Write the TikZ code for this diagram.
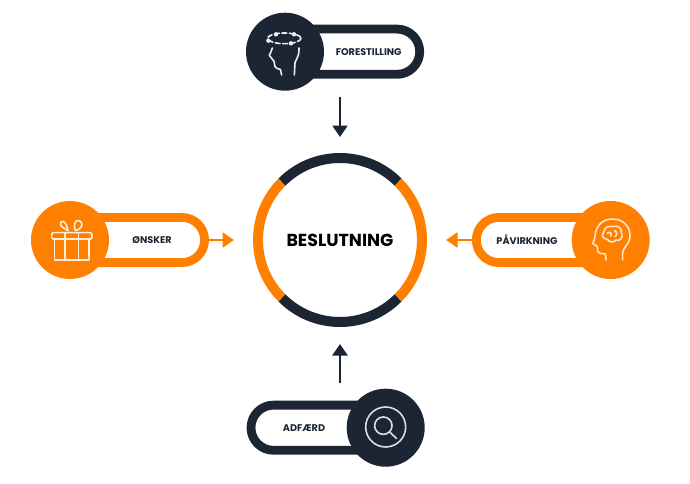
\documentclass[tikz,border=0pt]{standalone}
\usepackage{fontspec}
\setmainfont{Poppins}
\usetikzlibrary{shapes.misc,arrows.meta}
\definecolor{navy}{HTML}{1B2534}
\definecolor{orng}{HTML}{FF8000}
\tikzset{
  x=1pt,y=-1pt,
  pill/.style={rounded rectangle,draw=#1,line width=8.8pt,fill=white,minimum height=45.2pt,inner sep=0pt,outer sep=0pt},
  disc/.style={circle,fill=#1,minimum size=78pt,inner sep=0pt,outer sep=0pt},
  lbl/.style={font=\bfseries\fontsize{9.7}{11}\selectfont,text=#1,inner sep=0pt},
  flow/.style={draw=#1,line width=2.4pt,-{Triangle[length=11.5pt,width=15pt,fill=#1]}},
  icon/.style={draw=#1,line width=1.6pt,line cap=round,line join=round},
  ico/.style={x=0.3333pt,y=-0.3333pt},
}
\begin{document}
\begin{tikzpicture}
\useasboundingbox (0,0) rectangle (690,484);
\fill[white] (0,0) rectangle (690,484);
% centre ring
\node[font=\bfseries\fontsize{17.4}{20}\selectfont,text=black,inner sep=0pt] (centre) at (340,240) {BESLUTNING};
\draw[orng,line width=10pt] (340,240) ++(135:82) arc[start angle=135,end angle=225,radius=82];
\draw[orng,line width=10pt] (340,240) ++(-45:82) arc[start angle=-45,end angle=45,radius=82];
\draw[navy,line width=10pt] (340,240) ++(45:82) arc[start angle=45,end angle=135,radius=82];
\draw[navy,line width=10pt] (340,240) ++(225:82) arc[start angle=225,end angle=315,radius=82];
\coordinate (ringT) at (340,137);
\coordinate (ringL) at (234,240);
\coordinate (ringR) at (446,240);
\coordinate (ringB) at (340,344);
% FORESTILLING
\node[pill=navy,minimum width=130pt] (pF) at (354.7,51.7) {};
\node[disc=navy] (dF) at (285,51.7) {};
\node[lbl=navy] (tF) at (368.7,51.7) {FORESTILLING};
\coordinate (sF) at (340,97);
\draw[flow=navy] (sF) -- (ringT);
% ØNSKER
\node[pill=orng,minimum width=130pt] (pO) at (139.6,240) {};
\node[disc=orng] (dO) at (70,240) {};
\node[lbl=navy] (tO) at (152,240) {ØNSKER};
\draw[flow=orng] (pO.east) -- (ringL);
% PÅVIRKNING
\node[pill=orng,minimum width=130pt] (pP) at (541.3,240) {};
\node[disc=orng] (dP) at (610.7,240) {};
\node[lbl=navy] (tP) at (527,240) {PÅVIRKNING};
\draw[flow=orng] (pP.west) -- (ringR);
% ADFÆRD
\node[pill=navy,minimum width=130pt] (pA) at (316,427.7) {};
\node[disc=navy] (dA) at (385.7,427.7) {};
\node[lbl=navy] (tA) at (304,427.7) {ADFÆRD};
\coordinate (sA) at (340,383);
\draw[flow=navy] (sA) -- (ringB);
% icon: head with orbit
\begin{scope}[shift={(255,20)},ico,icon=white!92!navy]
  \draw[dash pattern=on 5pt off 2.5pt] (88,55) ellipse[x radius=50,y radius=16];
  \foreach \p in {(63,43),(117,43),(40,62),(108,70)} \fill[white!92!navy] \p circle (2.2pt);
  \draw (52,84) .. controls (50,92) and (47,98) .. (43,106) -- (57,124) -- (60,140) .. controls (62,146) and (70,146) .. (76,148) -- (80,165);
  \draw (118,165) -- (120,128) .. controls (125,115) and (134,105) .. (132,84);
\end{scope}
% icon: gift
\begin{scope}[shift={(42,210)},ico,icon=white!85!orng]
  \draw[rounded corners=1.5pt] (29,68) rectangle (150,87);
  \draw (37,87) -- (37,150) -- (141,150) -- (141,87);
  \draw (69,68) -- (69,150) (109,68) -- (109,150);
  \draw (78,62) .. controls (72,56) and (60,54) .. (56,45) .. controls (52,30) and (72,26) .. cycle;
  \draw (100,62) .. controls (122,56) and (126,40) .. (112,32) .. controls (100,28) and (92,45) .. (100,62);
\end{scope}
% icon: head with brain
\begin{scope}[shift={(580,210)},ico,icon=white!80!orng]
  \draw (78,150) -- (76,132) .. controls (66,130) and (55,132) .. (53,122) -- (52,110) -- (38,100)
        .. controls (45,88) and (44,80) .. (46,70) .. controls (52,42) and (72,27) .. (97,27)
        .. controls (130,27) and (152,50) .. (150,82) .. controls (149,100) and (130,112) .. (128,128) -- (128,150);
  \draw (82,88) .. controls (68,88) and (62,72) .. (72,66) .. controls (70,52) and (90,46) .. (98,50)
        .. controls (112,44) and (128,56) .. (124,68) .. controls (132,80) and (120,96) .. (108,90)
        .. controls (100,100) and (88,96) .. cycle;
  \draw (82,70) .. controls (90,62) and (98,72) .. (92,78) (104,62) .. controls (112,66) and (112,76) .. (104,80);
\end{scope}
% icon: magnifier
\begin{scope}[shift={(355,398)},ico,icon=white!85!navy]
  \draw (92,87) circle (20pt);
  \draw (85,83) circle (8.7pt);
  \draw (104,102) -- (125,122);
\end{scope}
\end{tikzpicture}
\end{document}
